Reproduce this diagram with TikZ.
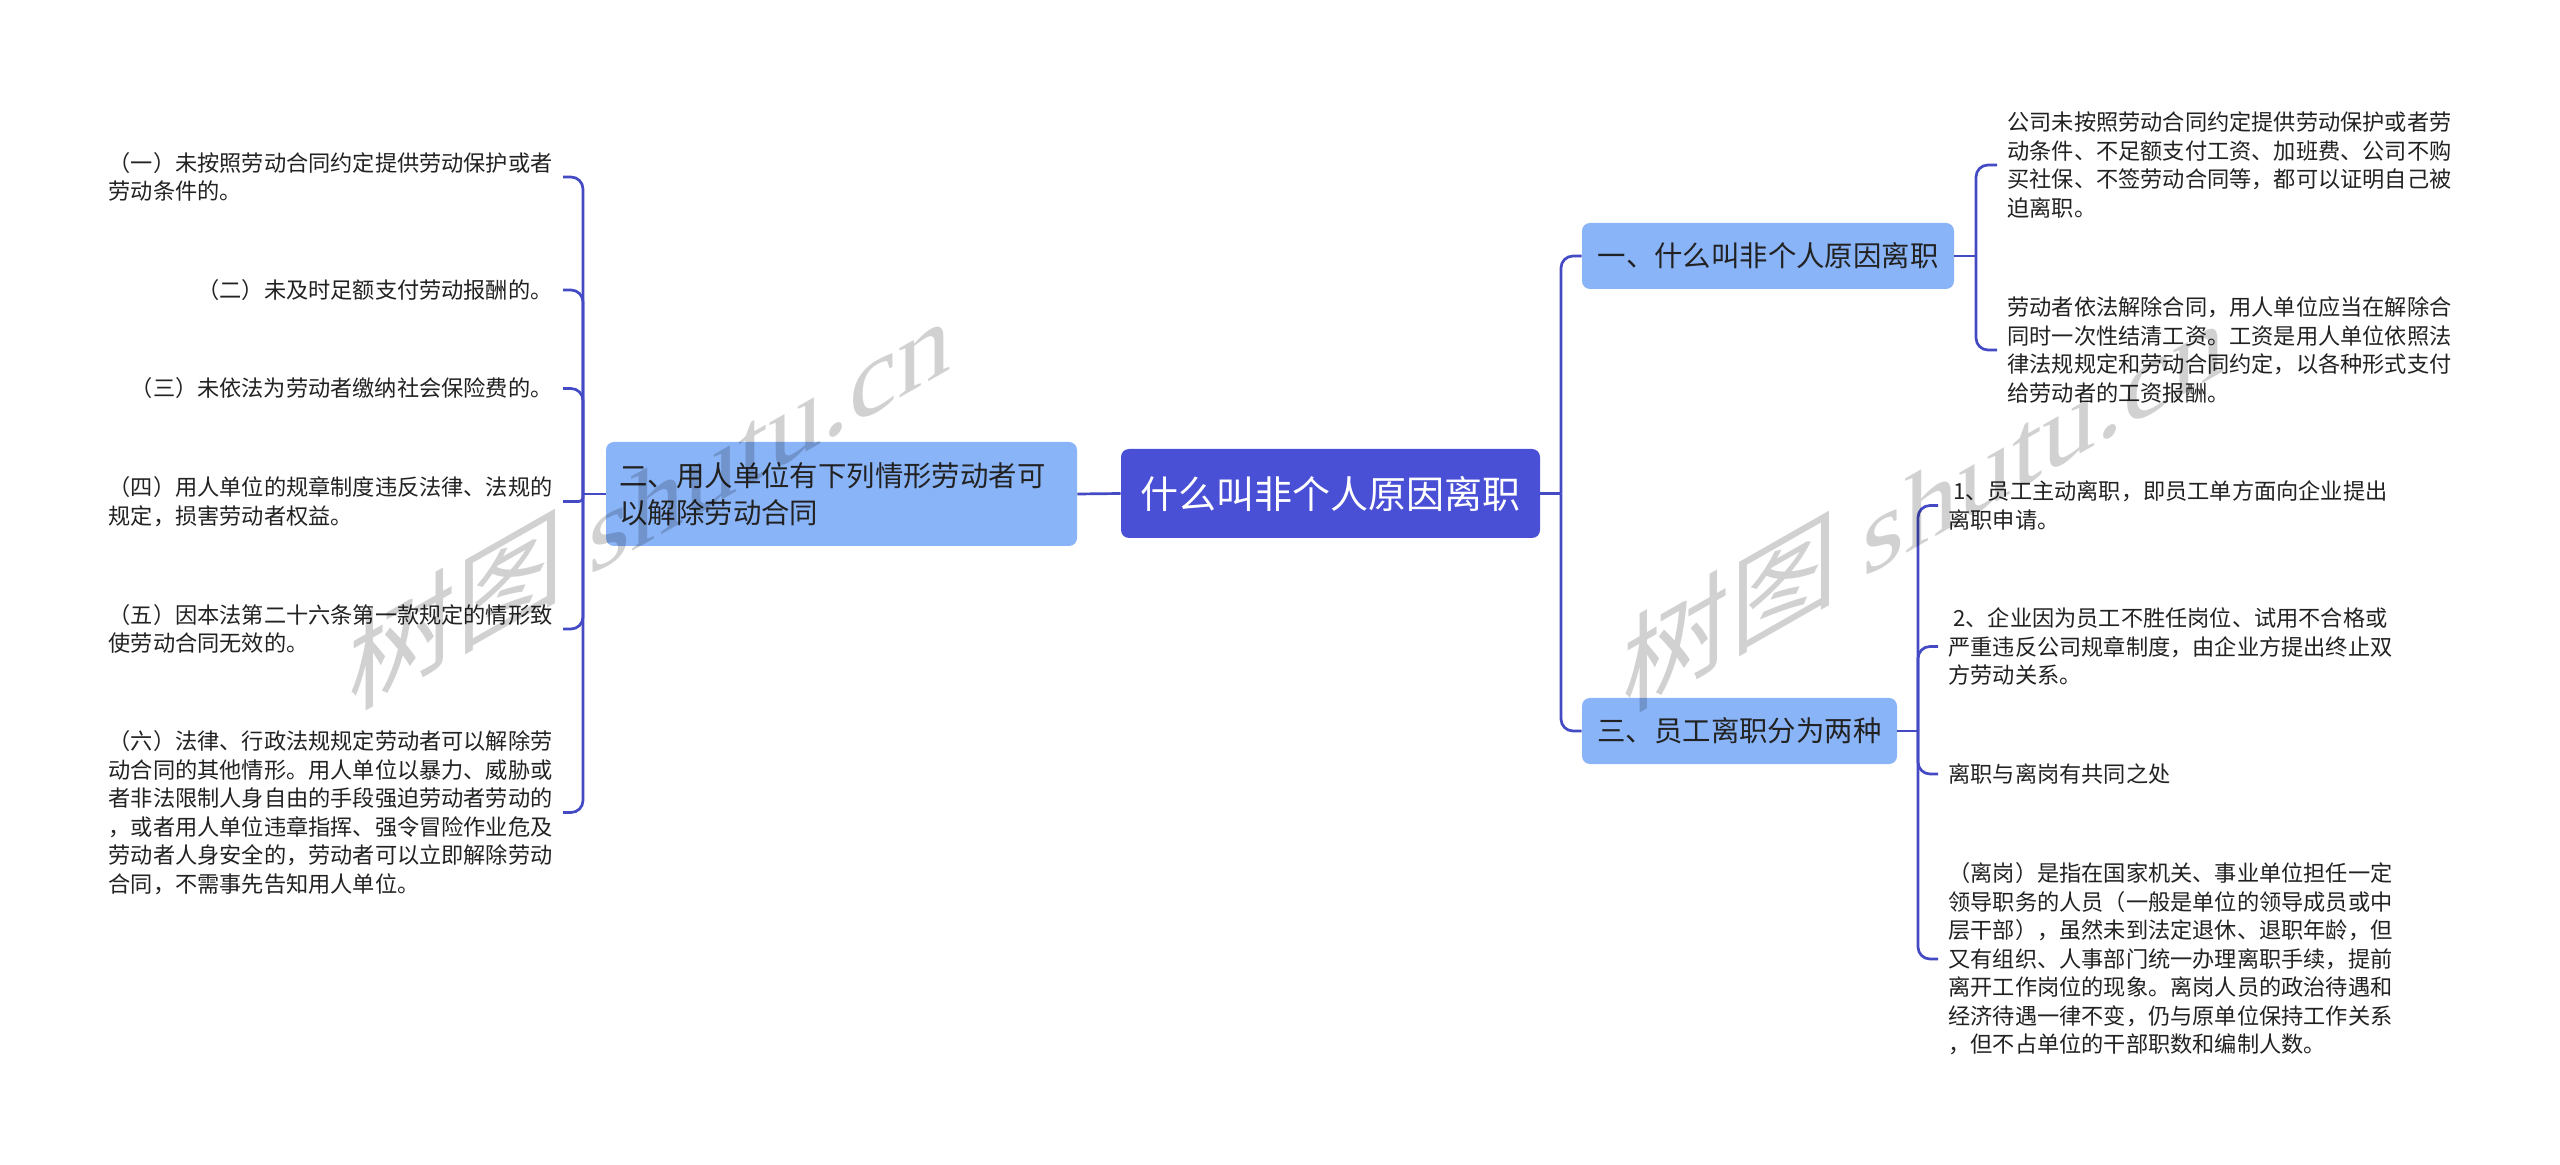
\documentclass[tikz,border=0pt]{standalone}
\usepackage{fontspec}
\newfontfamily\cjk{Noto Sans CJK SC}
\newfontfamily\wmserif{Liberation Serif}
\definecolor{rootc}{RGB}{74,80,214}
\definecolor{nodec}{RGB}{138,180,248}
\definecolor{linec}{RGB}{68,74,196}
\definecolor{txt}{RGB}{34,34,34}
\tikzset{
  rootbox/.style={fill=rootc, rounded corners=4pt, text=white, inner sep=0pt,
    font=\cjk\fontsize{19pt}{23pt}\selectfont, minimum width=209.5pt, minimum height=44.5pt},
  topic/.style={fill=nodec, rounded corners=4pt, text=txt, inner sep=0pt,
    font=\cjk\fontsize{14.2pt}{18.5pt}\selectfont, minimum height=33pt},
  leaf/.style={text=txt, font=\cjk\fontsize{11.1pt}{14.25pt}\selectfont, align=left,
    inner xsep=5pt, inner ysep=0pt},
  conn/.style={draw=linec, line width=1.35pt, rounded corners=6pt},
  wm/.style={text=black, opacity=0.18, yslant=0.57, inner sep=0pt}
}
\begin{document}
\begin{tikzpicture}[x=0.5pt,y=-0.5pt]
\fill[white] (0,0) rectangle (2560,1165);
\useasboundingbox (0,0) rectangle (2560,1165);

% root and main topics
\node[rootbox] (root) at (1330.5,493.5) {什么叫非个人原因离职};
\node[topic, minimum width=235.5pt, minimum height=52pt, text width=222pt, align=left, inner xsep=6.75pt] (left) at (841.5,494)
  {二、用人单位有下列情形劳动者可\\以解除劳动合同};
\node[topic, minimum width=186pt] (n1) at (1768,256) {一、什么叫非个人原因离职};
\node[topic, minimum width=157.5pt] (n3) at (1739.5,731) {三、员工离职分为两种};

% spines
\coordinate (sL) at (583,494);
\coordinate (sR) at (1561,493.5);
\coordinate (s1) at (1976,256);
\coordinate (s3) at (1918,731);

% left leaves
\node[leaf, anchor=east] (l1) at (563,177) {（一）未按照劳动合同约定提供劳动保护或者\\劳动条件的。};
\node[leaf, anchor=east] (l2) at (563,290) {（二）未及时足额支付劳动报酬的。};
\node[leaf, anchor=east] (l3) at (563,388.5) {（三）未依法为劳动者缴纳社会保险费的。};
\node[leaf, anchor=east] (l4) at (563,501.5) {（四）用人单位的规章制度违反法律、法规的\\规定，损害劳动者权益。};
\node[leaf, anchor=east] (l5) at (563,629) {（五）因本法第二十六条第一款规定的情形致\\使劳动合同无效的。};
\node[leaf, anchor=east] (l6) at (563,812.5) {（六）法律、行政法规规定劳动者可以解除劳\\动合同的其他情形。用人单位以暴力、威胁或\\者非法限制人身自由的手段强迫劳动者劳动的\\，或者用人单位违章指挥、强令冒险作业危及\\劳动者人身安全的，劳动者可以立即解除劳动\\合同，不需事先告知用人单位。};

% right leaves of topic 1
\node[leaf, anchor=west] (r1) at (1997,165) {公司未按照劳动合同约定提供劳动保护或者劳\\动条件、不足额支付工资、加班费、公司不购\\买社保、不签劳动合同等，都可以证明自己被\\迫离职。};
\node[leaf, anchor=west] (r2) at (1997,350) {劳动者依法解除合同，用人单位应当在解除合\\同时一次性结清工资。工资是用人单位依照法\\律法规规定和劳动合同约定，以各种形式支付\\给劳动者的工资报酬。};

% right leaves of topic 3
\node[leaf, anchor=west] (t1) at (1938,505.5) {\hspace{2.5pt}1、员工主动离职，即员工单方面向企业提出\\离职申请。};
\node[leaf, anchor=west] (t2) at (1938,646.5) {\hspace{2.5pt}2、企业因为员工不胜任岗位、试用不合格或\\严重违反公司规章制度，由企业方提出终止双\\方劳动关系。};
\node[leaf, anchor=west] (t3) at (1938,774) {离职与离岗有共同之处};
\node[leaf, anchor=west] (t4) at (1938,959) {（离岗）是指在国家机关、事业单位担任一定\\领导职务的人员（一般是单位的领导成员或中\\层干部），虽然未到法定退休、退职年龄，但\\又有组织、人事部门统一办理离职手续，提前\\离开工作岗位的现象。离岗人员的政治待遇和\\经济待遇一律不变，仍与原单位保持工作关系\\，但不占单位的干部职数和编制人数。};

% connectors
\draw[conn] (root.west) -- (left.east);
\draw[conn] (left.west) -- (sL);
\draw[conn] (sL) |- (l1.east);
\draw[conn] (sL) |- (l2.east);
\draw[conn] (sL) |- (l3.east);
\draw[conn, rounded corners=2pt] (sL) |- (l4.east);
\draw[conn] (sL) |- (l5.east);
\draw[conn] (sL) |- (l6.east);

\draw[conn] (root.east) -- (sR);
\draw[conn] (sR) |- (n1.west);
\draw[conn] (sR) |- (n3.west);

\draw[conn] (n1.east) -- (s1);
\draw[conn] (s1) |- (r1.west);
\draw[conn] (s1) |- (r2.west);

\draw[conn] (n3.east) -- (s3);
\draw[conn] (s3) |- (t1.west);
\draw[conn] (s3) |- (t2.west);
\draw[conn] (s3) |- (t3.west);
\draw[conn] (s3) |- (t4.west);

% watermarks
\node[wm] (wm1) at (650,500) {\cjk\fontsize{54pt}{58pt}\selectfont 树图\hspace{12pt}\wmserif shutu.cn};
\node[wm] (wm2) at (1924,502) {\cjk\fontsize{54pt}{58pt}\selectfont 树图\hspace{12pt}\wmserif shutu.cn};
\end{tikzpicture}
\end{document}
